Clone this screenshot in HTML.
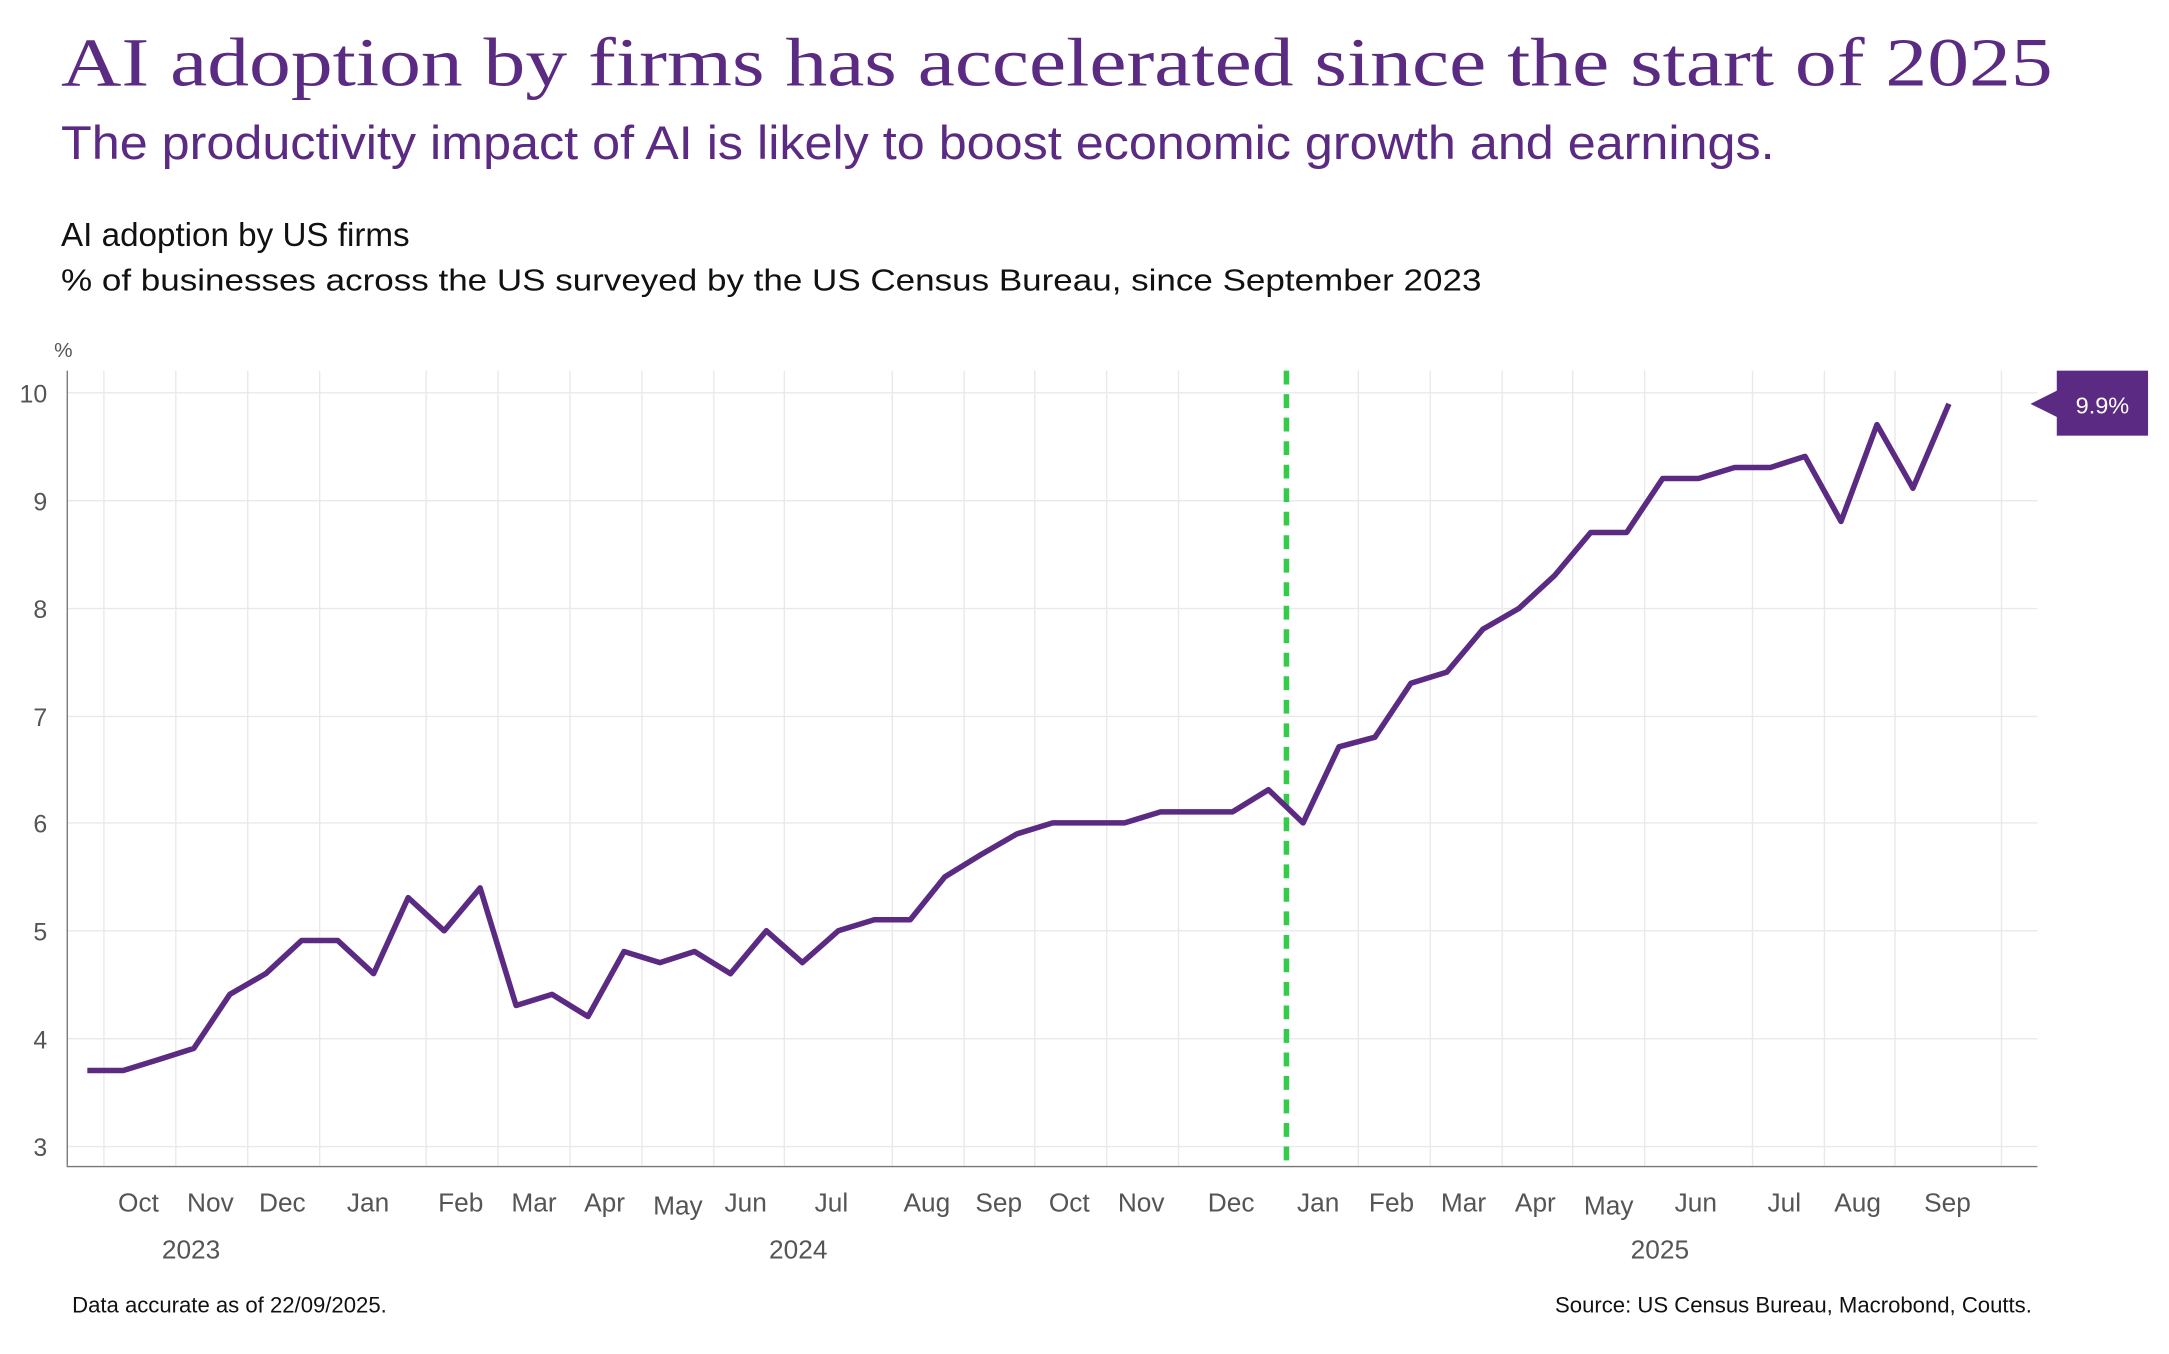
<!DOCTYPE html>
<html><head><meta charset="utf-8"><style>
html,body{margin:0;padding:0;background:#fff;}
svg{display:block;}
text{font-family:"Liberation Sans",sans-serif;}
</style></head><body>
<svg width="2169" height="1354" viewBox="0 0 1568 979" xmlns="http://www.w3.org/2000/svg">
<rect width="1568" height="979" fill="#fff"/>
<text x="44" y="62" style="font-family:'Liberation Serif',serif" font-size="50" fill="#5b2a82" textLength="1440" lengthAdjust="spacingAndGlyphs">AI adoption by firms has accelerated since the start of 2025</text>
<text x="44" y="115" font-size="34" fill="#5b2a82" textLength="1239" lengthAdjust="spacingAndGlyphs">The productivity impact of AI is likely to boost economic growth and earnings.</text>
<text x="44" y="178" font-size="24" fill="#111">AI adoption by US firms</text>
<text x="44" y="210" font-size="22" fill="#111" textLength="1027" lengthAdjust="spacingAndGlyphs">% of businesses across the US surveyed by the US Census Bureau, since September 2023</text>
<text x="39" y="258" font-size="15" fill="#555">%</text>
<g stroke="#e9e9e9" stroke-width="1">
<line x1="48" x2="1473" y1="284" y2="284"/><line x1="48" x2="1473" y1="362" y2="362"/><line x1="48" x2="1473" y1="440" y2="440"/><line x1="48" x2="1473" y1="518" y2="518"/><line x1="48" x2="1473" y1="595" y2="595"/><line x1="48" x2="1473" y1="673" y2="673"/><line x1="48" x2="1473" y1="751" y2="751"/><line x1="48" x2="1473" y1="829" y2="829"/>
<line x1="75" x2="75" y1="268" y2="843"/><line x1="127" x2="127" y1="268" y2="843"/><line x1="179" x2="179" y1="268" y2="843"/><line x1="231" x2="231" y1="268" y2="843"/><line x1="308" x2="308" y1="268" y2="843"/><line x1="360" x2="360" y1="268" y2="843"/><line x1="412" x2="412" y1="268" y2="843"/><line x1="464" x2="464" y1="268" y2="843"/><line x1="516" x2="516" y1="268" y2="843"/><line x1="567" x2="567" y1="268" y2="843"/><line x1="645" x2="645" y1="268" y2="843"/><line x1="697" x2="697" y1="268" y2="843"/><line x1="748" x2="748" y1="268" y2="843"/><line x1="800" x2="800" y1="268" y2="843"/><line x1="852" x2="852" y1="268" y2="843"/><line x1="982" x2="982" y1="268" y2="843"/><line x1="1034" x2="1034" y1="268" y2="843"/><line x1="1086" x2="1086" y1="268" y2="843"/><line x1="1137" x2="1137" y1="268" y2="843"/><line x1="1189" x2="1189" y1="268" y2="843"/><line x1="1267" x2="1267" y1="268" y2="843"/><line x1="1319" x2="1319" y1="268" y2="843"/><line x1="1370" x2="1370" y1="268" y2="843"/><line x1="1447" x2="1447" y1="268" y2="843"/>
</g>
<line x1="48.5" x2="48.5" y1="268" y2="843" stroke="#777" stroke-width="1"/>
<line x1="48" x2="1473" y1="843.5" y2="843.5" stroke="#777" stroke-width="1"/>
<g font-size="18" fill="#555" text-anchor="end">
<text x="34" y="291">10</text><text x="34" y="369">9</text><text x="34" y="447">8</text><text x="34" y="525">7</text><text x="34" y="602">6</text><text x="34" y="680">5</text><text x="34" y="758">4</text><text x="34" y="836">3</text>
</g>
<line x1="930" x2="930" y1="268" y2="843" stroke="#33cc4a" stroke-width="4" stroke-dasharray="10,7"/>
<polyline fill="none" stroke="#5b2a82" stroke-width="4" stroke-linejoin="round" points="63,774 89,774 115,766 140,758 166,719 192,704 218,680 244,680 270,704 295,649 321,673 347,642 373,727 399,719 425,735 451,688 477,696 502,688 528,704 554,673 580,696 606,673 632,665 658,665 683,634 709,618 735,603 761,595 787,595 813,595 839,587 865,587 891,587 917,571 942,595 968,540 994,533 1020,494 1046,486 1072,455 1098,440 1124,416 1150,385 1176,385 1202,346 1228,346 1254,338 1280,338 1305,330 1331,377 1357,307 1383,353 1409,292"/>
<rect x="1487" y="268" width="66" height="47" fill="#5b2a82"/>
<polygon points="1468,292 1488,282 1488,302" fill="#5b2a82"/>
<text x="1520" y="299" font-size="17" fill="#fff" text-anchor="middle">9.9%</text>
<g font-size="19" fill="#555" text-anchor="middle">
<text x="100" y="876">Oct</text><text x="152" y="876">Nov</text><text x="204" y="876">Dec</text><text x="266" y="876">Jan</text><text x="333" y="876">Feb</text><text x="386" y="876">Mar</text><text x="437" y="876">Apr</text><text x="490" y="878">May</text><text x="539" y="876">Jun</text><text x="601" y="876">Jul</text><text x="670" y="876">Aug</text><text x="722" y="876">Sep</text><text x="773" y="876">Oct</text><text x="825" y="876">Nov</text><text x="890" y="876">Dec</text><text x="953" y="876">Jan</text><text x="1006" y="876">Feb</text><text x="1058" y="876">Mar</text><text x="1110" y="876">Apr</text><text x="1163" y="878">May</text><text x="1226" y="876">Jun</text><text x="1290" y="876">Jul</text><text x="1343" y="876">Aug</text><text x="1408" y="876">Sep</text>
<text x="138" y="910">2023</text><text x="577" y="910">2024</text><text x="1200" y="910">2025</text>
</g>
<text x="52" y="949" font-size="16" fill="#111">Data accurate as of 22/09/2025.</text>
<text x="1469" y="949" font-size="16" fill="#111" text-anchor="end">Source: US Census Bureau, Macrobond, Coutts.</text>
</svg>
</body></html>
